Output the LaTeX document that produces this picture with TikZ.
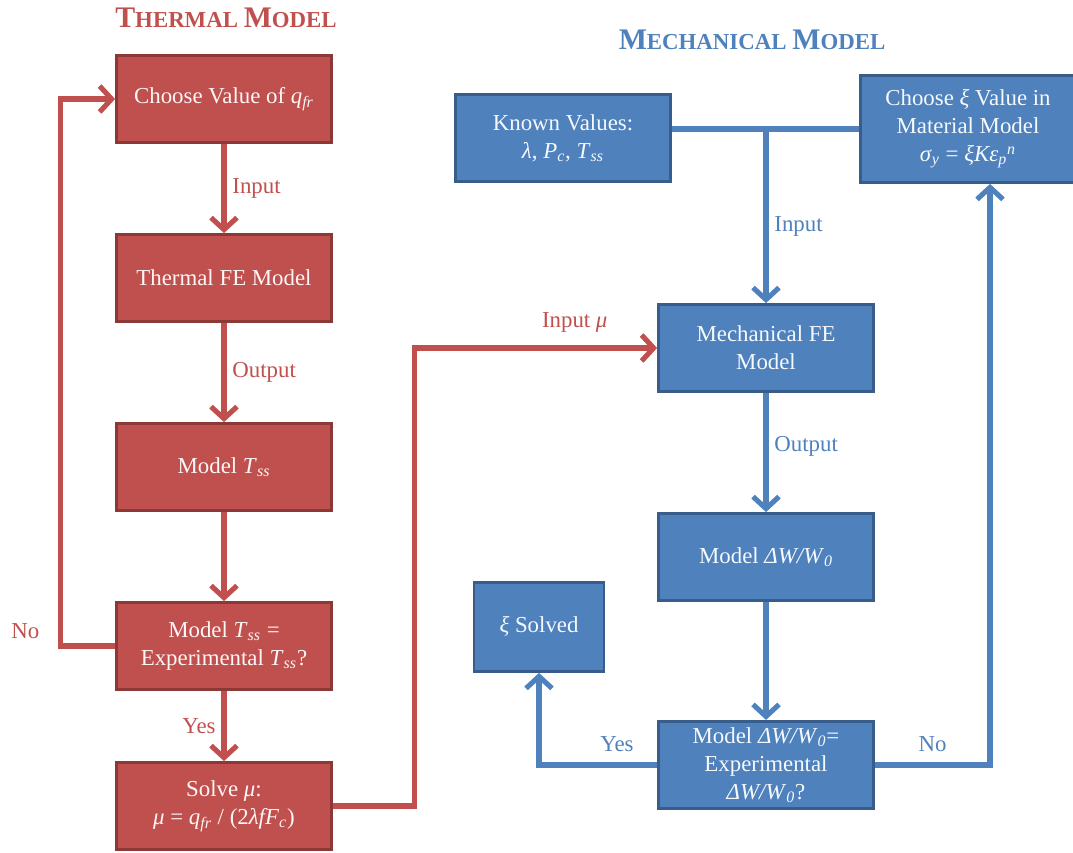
\documentclass[tikz,border=0pt]{standalone}
\usepackage{fontspec}
\setmainfont{Liberation Serif}
\usetikzlibrary{arrows.meta}
\definecolor{thred}{HTML}{C0504D}
\definecolor{thredline}{HTML}{8C3836}
\definecolor{meblue}{HTML}{4F81BD}
\definecolor{meblueline}{HTML}{385D8A}
\newcommand{\isub}[1]{\textsubscript{\textit{#1}}}
\newcommand{\tcap}[1]{{\fontsize{17}{18}\selectfont #1}}
\begin{document}
\begin{tikzpicture}[node distance=3.58cm, auto,
    every node/.style={font=\fontsize{13}{16}\selectfont},
    redbox/.style={draw=thredline, fill=thred, text=white!95!thred, line width=1.6pt,
        minimum width=4.3cm, minimum height=1.74cm, align=center},
    bluebox/.style={redbox, draw=meblueline, fill=meblue, text=white!95!meblue},
    redarr/.style={draw=thred, text=thred, line width=2.9pt, -{Straight Barb[length=2.4mm,width=5.2mm]}},
    bluearr/.style={redarr, draw=meblue, text=meblue},
    title/.style={font=\fontsize{13}{15}\selectfont\bfseries}]
    \useasboundingbox (0,0) rectangle (21.46,-17.04);
    \node[title, text=thred] (tt) at (4.52,-0.36) {\tcap{T}HERMAL \tcap{M}ODEL};
    \node[title, text=meblue] (mt) at (15.04,-0.80) {\tcap{M}ECHANICAL \tcap{M}ODEL};

    \node[redbox] (qfr) at (4.48,-1.98) {Choose Value of \textit{q}\isub{fr}};
    \node[redbox] (thfe) [below of=qfr] {Thermal FE Model};
    \node[redbox] (tss) [below of=thfe, node distance=3.78cm] {Model \textit{T}\isub{ss}};
    \node[redbox] (teq) [below of=tss] {Model \textit{T}\isub{ss} =\\Experimental \textit{T}\isub{ss}?};
    \node[redbox] (mu) [below of=teq, node distance=3.2cm] {Solve \textit{μ}:\\\textit{μ} = \textit{q}\isub{fr} / (2\textit{λfF}\isub{c})};

    \node[bluebox] (mefe) at (15.32,-6.96) {Mechanical FE\\Model};
    \node[bluebox] (dw) [below of=mefe, node distance=4.18cm] {Model \textit{ΔW/W}\isub{0}};
    \node[bluebox] (weq) [below of=dw, node distance=4.16cm] {Model \textit{ΔW/W}\isub{0}=\\Experimental\\\textit{ΔW/W}\isub{0}?};
    \node[bluebox] (known) at (11.26,-2.76) {Known Values:\\\textit{λ}, \textit{P}\isub{c}, \textit{T}\isub{ss}};
    \node[bluebox, minimum height=2.14cm] (xi) at (19.36,-2.58) {Choose \textit{ξ} Value in\\Material Model\\\textit{σ}\isub{y} = \textit{ξKε}\isub{p}\textsuperscript{\textit{n}}};
    \node[bluebox, minimum width=2.6cm, minimum height=1.78cm] (solved) at (10.78,-12.54) {\textit{ξ} Solved};

    \draw[redarr](qfr) to node {Input}(thfe);
    \draw[redarr](thfe) to node {Output}(tss);
    \draw[redarr](tss) to (teq);
    \draw[redarr](teq) to node [swap] {Yes}(mu);
    \draw[redarr](teq.west) -- ++(-1.1,0) node [left=0.25cm, yshift=0.3cm] {No} |- (qfr.west);
    \draw[redarr](mu.east) -- ++(1.64,0) |- node [pos=0.83, above=0.15cm] {Input \textit{μ}}(mefe.west);

    \coordinate (jn) at (mefe.north |- xi.west);
    \draw[bluearr, -] (xi.west -| known.east) -- (xi.west);
    \draw[bluearr](jn) to node [pos=0.56] {Input}(mefe);
    \draw[bluearr](mefe) to node [pos=0.45] {Output}(dw);
    \draw[bluearr](dw) to (weq);
    \draw[bluearr](weq.west) -| node [pos=0.17, above=0.1cm] {Yes}(solved.south);
    \draw[bluearr](weq.east) -| node [pos=0.25, above=0.1cm] {No}([xshift=0.44cm]xi.south);
\end{tikzpicture}
\end{document}
